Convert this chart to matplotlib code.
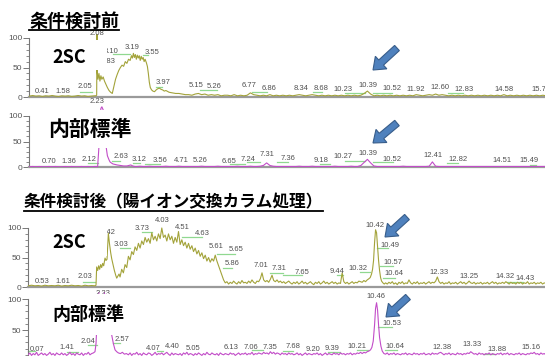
import numpy as np
import matplotlib
matplotlib.use('Agg')
import matplotlib.pyplot as plt
from matplotlib.patches import FancyArrow, Rectangle
from matplotlib.ticker import FixedLocator, FixedFormatter

W, H = 545, 356
OLIVE = '#a3a33a'
MAGENTA = '#c24cc8'
MARK = '#90d890'
LABEL = '#505050'
CJK = ['Noto Sans CJK JP', 'DejaVu Sans']

plt.rcParams['font.family'] = ['Liberation Sans', 'DejaVu Sans']

# ---------------- 条件検討前 : 2SC (relative abundance %, time in min) ----------------
pre_2sc_head = [1.5, 2.5, 1.5, 2, 1, 2, 1.5, 2.5, 1.5, 1, 2, 1.5, 2, 1, 1.5, 2.5, 1.5, 2, 1, 1.5, 2]
pre_2sc_peak_t = [2.04, 2.07, 2.08, 2.09, 2.11, 2.14, 2.17, 2.20, 2.23, 2.27, 2.31, 2.35, 2.40, 2.45,
                  2.50, 2.55, 2.60, 2.65, 2.70, 2.75, 2.80, 2.85, 2.90, 2.95, 3.00, 3.05, 3.10, 3.14,
                  3.17, 3.20, 3.23, 3.26, 3.29, 3.32, 3.35, 3.38, 3.41, 3.44, 3.47, 3.50, 3.53, 3.56,
                  3.60, 3.63, 3.66, 3.69, 3.72, 3.76, 3.80, 3.85, 3.90, 3.95, 4.00, 4.05, 4.10, 4.15, 4.20]
pre_2sc_peak_v = [2, 3, 106, 41, 30, 40, 27, 36, 30, 34, 27, 22, 16, 11,
                  8, 6, 18, 30, 38, 45, 50, 54, 52, 60, 57, 64, 62, 70,
                  66, 74, 67, 72, 64, 71, 66, 70, 62, 69, 64, 67, 60, 64,
                  58, 52, 40, 25, 16, 12, 10, 9, 12, 14, 15, 13, 12, 10, 11]
pre_2sc_tail = [8, 7, 6, 6, 5, 4, 4, 3,
                5, 6, 4, 5, 3, 4, 3, 4, 2, 3,
                3, 2, 4, 2, 3, 2, 3, 7, 4, 3,
                2, 3, 2, 4, 2, 3, 2, 3, 2, 3,
                2, 3, 4, 3, 2, 3, 4, 3, 2, 3,
                2, 3, 2, 3, 2, 3, 2, 3, 2, 3,
                2, 3, 6, 10, 5, 2, 3, 2, 3, 2,
                3, 2, 3, 2, 3, 2, 3, 2, 4, 3,
                2, 3, 4, 3, 5, 3, 4, 3, 2, 3,
                2, 3, 2, 3, 2, 3, 2, 3, 2, 3,
                2, 3, 2, 3, 2, 4, 2, 3, 2, 3,
                2, 3, 2, 3, 2, 3, 2, 3, 2]
pre_2sc_labels = ['0.41', '1.58', '2.05', '2.08', '2.83', '3.10', '3.19', '3.55', '3.97', '5.15', '5.26',
                  '6.77', '6.86', '8.34', '8.68', '10.23', '10.39', '10.52', '11.92', '12.60', '12.83',
                  '14.58', '15.70']
pre_2sc_label_t = [0.38, 1.02, 1.70, 2.08, 2.43, 2.50, 3.17, 3.77, 4.10, 5.13, 5.68,
                   6.77, 7.37, 8.36, 8.96, 9.65, 10.42, 11.16, 11.90, 12.63, 13.37, 14.60, 15.74]
pre_2sc_label_v = [10, 10, 17, 108, 60, 77, 84, 75, 24, 19, 17, 19, 15, 14, 14, 12, 19, 14, 12, 16, 12, 12, 12]
pre_2sc_marks = [(1.16, 1.56, 2), (1.56, 1.93, 8), (2.57, 3.10, 73), (3.50, 3.65, 71), (3.89, 4.08, 17),
                 (5.25, 5.77, 12), (6.85, 7.31, 8), (8.73, 9.00, 8), (9.71, 10.33, 7), (10.57, 11.16, 7),
                 (12.88, 13.34, 7)]

# ---------------- 条件検討前 : 内部標準 ----------------
pre_is_head = [0.5, 1, 0.5, 1, 0.5, 0.5, 1, 0.5, 1, 0.5, 0.5, 1, 0.5, 1, 0.5, 0.5, 1, 0.5, 1, 0.5, 1, 1]
pre_is_peak_t = [2.14, 2.17, 2.20, 2.23, 2.27, 2.31, 2.36, 2.40, 2.45, 2.48, 2.52, 2.57, 2.63, 2.70,
                 2.80, 2.90, 3.00, 3.06, 3.12, 3.18, 3.25]
pre_is_peak_v = [40, 95, 115, 118, 112, 85, 40, 22, 14, 10, 8, 6, 5, 4, 3, 2, 2, 3, 4, 2, 1]
pre_is_tail = [1, 1.5, 1, 1, 1.5, 1, 1, 1,
               1, 1.5, 1, 1, 1, 1.5, 1, 1, 1, 1,
               1, 1, 1.5, 1, 1, 1, 1, 1.5, 1, 1,
               1, 1, 1, 1.5, 1, 1, 1, 1.5, 1, 1,
               1.5, 3, 8, 3, 1.5, 1, 1, 1, 1, 1,
               1, 1, 1.5, 1, 1, 1, 1.5, 1, 1, 1,
               1, 1, 1, 1.5, 1, 1, 1, 1, 1.5, 1,
               1, 3, 9, 15, 8, 2, 1, 1, 1, 1,
               1, 1, 1, 1, 1.5, 1, 1, 1, 1, 1,
               1, 1, 1.5, 10, 1.5, 1, 1, 1, 1, 1,
               1, 1, 1, 1, 1, 1, 1, 1, 1, 1,
               1, 1, 1, 1, 1, 1, 1, 1, 1, 1,
               1, 1, 1, 1, 1, 1, 1, 1, 1]
pre_is_labels = ['0.70', '1.36', '2.12', '2.23', '2.63', '3.12', '3.56', '4.71', '5.26', '6.65', '7.24',
                 '7.31', '7.36', '9.18', '10.27', '10.39', '10.52', '12.41', '12.82', '14.51', '15.49']
pre_is_label_t = [0.60, 1.22, 1.83, 2.08, 2.82, 3.37, 4.02, 4.66, 5.25, 6.14, 6.73,
                  7.31, 7.96, 8.97, 9.65, 10.42, 11.16, 12.42, 13.19, 14.54, 15.37]
pre_is_label_v = [10, 10, 14, 129, 20, 15, 12, 12, 13, 10, 15, 24, 17, 12, 20, 27, 15, 22, 14, 12, 12]
pre_is_marks = [(1.80, 2.11, 8), (2.54, 2.79, 12), (3.19, 3.40, 8), (3.56, 4.02, 6), (6.17, 6.63, 6),
                (6.70, 7.10, 10), (7.62, 7.96, 10), (8.94, 9.25, 6), (9.71, 10.33, 12), (10.57, 11.19, 9),
                (12.85, 13.19, 8), (15.40, 15.60, 4)]

# ---------------- 条件検討後 : 2SC ----------------
post_2sc_head = [2, 3, 2, 2.5, 1.5, 3, 2, 2.5, 2, 3, 1.5, 2.5, 2, 3, 2, 2.5, 1.5, 3, 2, 2.5, 2]
post_2sc_front_t = [2.03, 2.05, 2.08, 2.11, 2.14, 2.17, 2.20, 2.23, 2.26, 2.30, 2.33, 2.36, 2.40, 2.43,
                    2.47, 2.50, 2.54, 2.58, 2.62, 2.65, 2.68, 2.72]
post_2sc_front_v = [3, 34, 28, 36, 30, 38, 33, 40, 36, 49, 45, 47, 91, 75,
                    58, 48, 38, 28, 20, 15, 18, 22]
post_2sc_hump = [17, 30, 24, 38, 33, 52, 46, 60, 55, 68,
                 62, 74, 66, 78, 72, 84, 76, 82, 74, 92,
                 80, 86, 78, 90, 82, 100, 84, 88, 78, 90,
                 80, 86, 74, 84, 76, 94, 72, 80, 70, 76,
                 66, 74, 64, 70, 60, 66, 56, 62, 52, 58,
                 48, 54, 44, 50, 42, 48, 44, 54, 44, 36,
                 28, 20, 12, 7, 9]
post_2sc_mid = [5, 8, 6, 10, 7, 5, 9, 6, 11, 7,
                8, 6, 10, 7, 12, 8, 6, 10, 9, 14,
                24, 12, 9, 11, 8, 13, 20, 11, 9, 12,
                8, 10, 7, 9, 6, 8, 10, 7, 5, 8,
                6, 9, 5, 7, 10, 6, 8, 5, 7, 9,
                6, 4, 8, 6, 9, 5, 7, 10, 6, 8,
                5, 7, 9, 6, 8, 5, 7, 6, 24, 9,
                6, 8, 5, 7, 9, 6, 8, 7, 10, 9,
                8, 11, 9, 12, 14]
post_2sc_peak_t = [10.24, 10.28, 10.31, 10.34, 10.37, 10.40, 10.43, 10.46, 10.49, 10.52, 10.55,
                   10.58, 10.62, 10.66]
post_2sc_peak_v = [16, 22, 30, 45, 75, 97, 92, 68, 45, 28, 16, 10, 7, 5]
post_2sc_tail = [7, 5, 8, 6, 9, 5, 7, 4, 8, 6,
                 9, 5, 7, 6, 12, 7, 5, 8, 6, 9,
                 5, 7, 6, 8, 5, 7, 9, 6, 8, 7,
                 10, 17, 9, 6, 8, 5, 7, 6, 9, 5,
                 7, 6, 8, 5, 7, 9, 6, 8, 5, 7,
                 10, 7, 6, 8, 5, 7, 6, 8, 5, 7,
                 6, 8, 5, 7, 9, 6, 8, 5, 7, 6,
                 8, 6, 9, 7, 5, 8, 6, 7, 5, 8,
                 6, 8, 5, 7, 6, 9, 5, 7, 6, 8,
                 5, 7, 6, 8, 5, 7, 6]
post_2sc_labels = ['0.53', '1.61', '2.03', '2.42', '3.03', '3.73', '4.03', '4.51', '4.63', '5.61', '5.65',
                   '5.86', '7.01', '7.31', '7.65', '9.44', '10.32', '10.42', '10.49', '10.57', '10.64',
                   '12.33', '13.25', '14.32', '14.43']
post_2sc_label_t = [0.43, 1.03, 1.70, 2.39, 2.78, 3.41, 4.00, 4.60, 5.22, 5.62, 6.22,
                    6.10, 6.96, 7.52, 8.19, 9.24, 9.88, 10.38, 10.83, 10.92, 10.95,
                    12.29, 13.19, 14.28, 14.89]
post_2sc_label_v = [9, 9, 17, 92, 72, 99, 112, 101, 91, 68, 63, 39, 36, 32, 24, 27, 32, 104, 71, 41, 23,
                    25, 17, 17, 15]
post_2sc_marks = [(1.64, 2.00, 9), (2.75, 3.05, 66), (3.41, 3.71, 94), (4.61, 5.20, 84), (5.65, 6.19, 56),
                  (5.83, 6.10, 32), (7.24, 7.63, 24), (7.63, 8.20, 20), (9.25, 9.43, 21), (9.93, 10.23, 25),
                  (10.44, 10.77, 66), (10.53, 10.92, 36), (10.62, 10.98, 16), (14.33, 14.81, 8)]

# ---------------- 条件検討後 : 内部標準 ----------------
post_is_head = [10, 13, 9, 12, 10, 14, 9, 11, 13, 10,
                12, 9, 11, 14, 10, 12, 9, 13, 11, 10,
                13, 10, 12, 9, 11, 14, 10, 12, 9, 13,
                11, 10, 13, 9, 12, 11, 14, 10, 12, 13]
post_is_front_t = [2.00, 2.03, 2.06, 2.09, 2.13, 2.18, 2.23, 2.30, 2.38, 2.44, 2.50, 2.55, 2.60, 2.65,
                   2.70, 2.76, 2.82, 2.88, 2.94]
post_is_front_v = [15, 28, 60, 95, 118, 125, 122, 105, 70, 52, 42, 28, 18, 15, 13, 12, 14, 11, 12]
post_is_mid = [10, 13, 9, 12, 11, 14, 10, 12, 9, 13,
               11, 10, 13, 12, 9, 11, 14, 10, 12, 11,
               13, 10, 12, 14, 11, 9, 13, 10, 12, 11,
               10, 12, 9, 13, 11, 14, 10, 12, 11, 9,
               12, 10, 13, 11, 9, 12, 10, 14, 11, 10,
               13, 11, 10, 12, 9, 13, 11, 10, 12, 11,
               10, 13, 11, 12, 9, 11, 13, 10, 12, 11,
               13, 10, 12, 11, 14, 10, 12, 11, 13, 12,
               11, 14, 12, 13, 11, 15, 12, 14, 11, 13,
               12, 10, 13, 11, 12, 10, 13, 11, 12, 10,
               11, 13, 10, 12, 9, 11, 13, 10, 12, 11,
               10, 12, 11, 13, 10, 12, 9, 11, 13, 10,
               12, 11, 10, 13, 11, 12, 10, 13, 11, 12,
               10, 12, 11, 13, 10, 12, 11, 13, 12, 14,
               12, 14, 13, 15, 16]
post_is_peak_t = [10.25, 10.29, 10.33, 10.37, 10.40, 10.43, 10.46, 10.49, 10.52, 10.56, 10.60, 10.65]
post_is_peak_v = [18, 22, 32, 58, 85, 94, 82, 58, 38, 24, 16, 12]
post_is_tail = [11, 13, 10, 12, 11, 13, 10, 12, 11, 10,
                12, 11, 13, 10, 12, 11, 10, 13, 11, 12,
                10, 12, 11, 13, 10, 11, 12, 10, 13, 11,
                12, 11, 13, 14, 12, 10, 12, 11, 13, 10,
                12, 11, 10, 13, 11, 12, 10, 12, 11, 13,
                12, 15, 13, 11, 12, 10, 13, 11, 12, 10,
                12, 11, 13, 10, 12, 11, 10, 12, 11, 13,
                10, 12, 11, 13, 10, 12, 11, 10, 12, 11,
                13, 10, 12, 11, 10, 12, 11, 13, 12, 14,
                11, 12, 10, 13, 11, 12, 10]
post_is_labels = ['0.07', '1.41', '2.04', '2.23', '2.57', '4.07', '4.40', '5.05', '6.13', '7.06', '7.35',
                  '7.68', '9.20', '9.39', '10.21', '10.46', '10.53', '10.64', '12.38', '13.33', '13.88',
                  '15.16']
post_is_label_t = [0.26, 1.16, 1.79, 2.24, 2.80, 3.74, 4.32, 4.94, 6.07, 6.66, 7.24,
                   7.94, 8.54, 9.11, 9.84, 10.42, 10.88, 10.98, 12.38, 13.29, 14.03, 15.05]
post_is_label_v = [19, 21, 31, 109, 34, 20, 23, 20, 21, 21, 21, 23, 19, 20, 24, 104, 61, 23, 22, 26, 19, 21]
post_is_marks = [(0.0, 0.2, 16), (1.16, 1.49, 15), (1.79, 2.06, 26), (2.54, 2.75, 29), (3.86, 4.04, 16),
                 (6.70, 7.03, 17), (7.63, 7.93, 16), (8.98, 9.34, 15), (9.84, 10.17, 18), (10.47, 10.89, 55),
                 (10.68, 11.04, 18), (13.62, 13.98, 12)]


def trace(*parts):
    """Join sampled runs (start, step, values) and explicit (times, values) pieces."""
    t, v = [], []
    for p in parts:
        if len(p) == 3:
            start, step, vals = p
            t.extend(start + step * np.arange(len(vals)))
            v.extend(vals)
        else:
            t.extend(p[0])
            v.extend(p[1])
    return np.array(t), np.array(v)


fig = plt.figure(figsize=(W / 100, H / 100), dpi=100)


def draw_panel(x0, min_px, y_zero, px100, top, t, v, color, labels, label_t, label_v, marks,
               tick_text=('0', '50', '100')):
    height = px100 * top / 100
    ax = fig.add_axes([x0 / W, 1 - y_zero / H, (W - x0) / W, height / H])
    ax.set_xlim(0, (W - x0) / min_px)
    ax.set_ylim(0, top)
    ax.patch.set_alpha(0)
    for a, b, y in marks:
        ax.plot([a, b], [y, y], color=MARK, lw=0.9, zorder=2, clip_on=False)
    ax.plot(t, v, color=color, lw=0.8, zorder=3)
    for s, tx, vy in zip(labels, label_t, label_v):
        ax.text(tx, vy, s, fontsize=5.5, color=LABEL, ha='center', va='center',
                clip_on=False, zorder=4)
    for side in ('top', 'right'):
        ax.spines[side].set_visible(False)
    ax.spines['left'].set_bounds(0, 100)
    ax.spines['left'].set_color('#777777')
    ax.spines['left'].set_linewidth(0.8)
    ax.spines['bottom'].set_color('#9a9a9a')
    ax.spines['bottom'].set_linewidth(1.6)
    ax.set_xticks([])
    ax.yaxis.set_major_locator(FixedLocator([0, 50, 100]))
    ax.yaxis.set_major_formatter(FixedFormatter(list(tick_text)))
    ax.yaxis.set_minor_locator(FixedLocator(range(0, 101, 10)))
    ax.tick_params(axis='y', which='major', length=4, width=0.7, color='#777777',
                   labelsize=6, labelcolor='#555555', pad=1)
    ax.tick_params(axis='y', which='minor', length=2, width=0.6, color='#777777')
    return ax


draw_panel(29.4, 32.5, 97, 59, 112,
           *trace((0.0, 0.1, pre_2sc_head), (pre_2sc_peak_t, pre_2sc_peak_v), (4.3, 0.1, pre_2sc_tail)),
           OLIVE, pre_2sc_labels, pre_2sc_label_t, pre_2sc_label_v, pre_2sc_marks)
draw_panel(29.4, 32.5, 167, 51, 135,
           *trace((0.0, 0.1, pre_is_head), (pre_is_peak_t, pre_is_peak_v), (3.3, 0.1, pre_is_tail)),
           MAGENTA, pre_is_labels, pre_is_label_t, pre_is_label_v, pre_is_marks)
draw_panel(28.2, 33.4, 287, 59, 118,
           *trace((0.0, 0.1, post_2sc_head), (post_2sc_front_t, post_2sc_front_v), (2.75, 0.05, post_2sc_hump),
                  (6.0, 0.05, post_2sc_mid), (post_2sc_peak_t, post_2sc_peak_v), (10.70, 0.05, post_2sc_tail)),
           OLIVE, post_2sc_labels, post_2sc_label_t, post_2sc_label_v, post_2sc_marks)
draw_panel(28.2, 33.4, 361, 62, 112,
           *trace((0.0, 0.05, post_is_head), (post_is_front_t, post_is_front_v), (3.0, 0.05, post_is_mid),
                  (post_is_peak_t, post_is_peak_v), (10.70, 0.05, post_is_tail)),
           MAGENTA, post_is_labels, post_is_label_t, post_is_label_v, post_is_marks,
           tick_text=('', '50', '100'))

# overlay in pixel units for titles, name boxes and arrows
ov = fig.add_axes([0, 0, 1, 1], zorder=10)
ov.set_xlim(0, W)
ov.set_ylim(H, 0)
ov.axis('off')
ov.patch.set_alpha(0)


def title(x, y, s, size):
    txt = ov.text(x, y, s, fontsize=size, fontweight='bold', family=CJK, va='center', ha='left')
    fig.canvas.draw()
    bb = txt.get_window_extent().transformed(ov.transData.inverted())
    y_line = max(bb.y0, bb.y1) - 0.5
    ov.plot([bb.x0, bb.x1], [y_line, y_line], color='black', lw=1.3)


title(29, 21, '条件検討前', 13)
title(24, 202, '条件検討後（陽イオン交換カラム処理）', 12)

for (bx, by, bw, bh), (cx, cy, s, size) in [((35, 40, 72, 30), (69, 57.5, '2SC', 13)),
                                            ((40, 110, 100, 38), (89.5, 129, '内部標準', 15)),
                                            ((35, 222, 71.5, 34), (69, 243, '2SC', 13)),
                                            ((40, 294, 100, 41), (88.5, 315, '内部標準', 13))]:
    ov.add_patch(Rectangle((bx, by), bw, bh, facecolor='white', edgecolor='none'))
    ov.text(cx, cy, s, fontsize=size, fontweight='bold', family=CJK, ha='center', va='center')

for (x1, y1), (x2, y2) in [((397, 48), (373, 70)), ((397, 123), (373, 143)),
                           ((407, 217), (385, 237)), ((408, 297), (386, 317))]:
    ov.add_patch(FancyArrow(x1, y1, x2 - x1, y2 - y1, width=7, head_width=17, head_length=11,
                            length_includes_head=True, facecolor='#4f81bd', edgecolor='#385d8a', lw=0.8))

fig.savefig('out.png', dpi=100)
